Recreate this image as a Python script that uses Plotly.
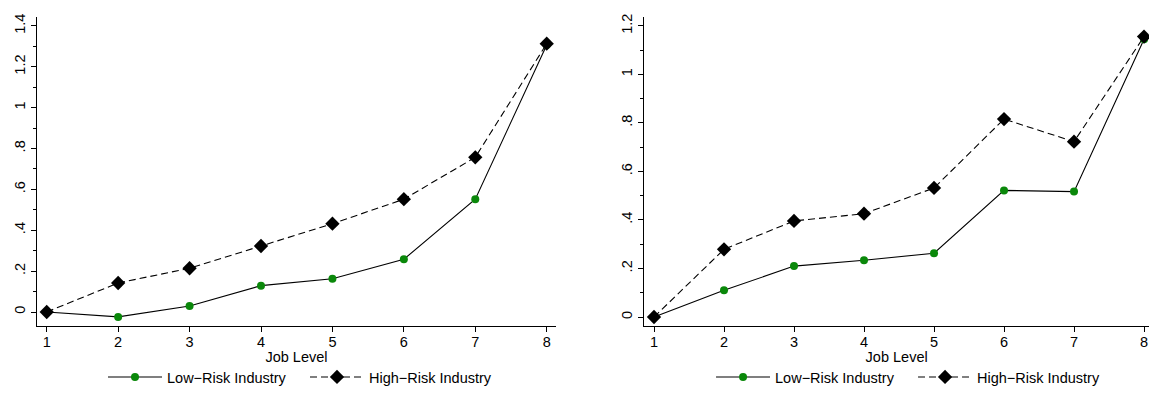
import plotly.graph_objects as go

job_levels = [1, 2, 3, 4, 5, 6, 7, 8]

# Left panel
left_low = [0.0, -0.024, 0.029, 0.129, 0.163, 0.258, 0.552, 1.307]
left_high = [0.0, 0.142, 0.214, 0.323, 0.432, 0.552, 0.757, 1.313]

# Right panel
right_low = [0.0, 0.110, 0.210, 0.234, 0.263, 0.522, 0.517, 1.145]
right_high = [0.0, 0.279, 0.396, 0.426, 0.532, 0.816, 0.723, 1.156]

left_yticks = [0, 0.2, 0.4, 0.6, 0.8, 1.0, 1.2, 1.4]
left_ytext = ["0", ".2", ".4", ".6", ".8", "1", "1.2", "1.4"]
right_yticks = [0, 0.2, 0.4, 0.6, 0.8, 1.0, 1.2]
right_ytext = ["0", ".2", ".4", ".6", ".8", "1", "1.2"]

series_names = ["Low\u2212Risk Industry", "High\u2212Risk Industry"]

GREEN = "#0a880a"
FONT = "Liberation Sans, Arial, sans-serif"
FS = 14.5

# The page puts the figure 8px in from the corner (default body margin);
# the figure is sized so the page does not overflow the 1157x394 window.
W, H = 1141, 378

fig = go.Figure()


def add_panel(low, high, xa, ya, legend):
    fig.add_trace(go.Scatter(
        x=job_levels, y=low, mode="lines+markers", name=series_names[0],
        line=dict(color="black", width=1.1),
        marker=dict(symbol="circle", size=8, color=GREEN),
        xaxis=xa, yaxis=ya, legend=legend, cliponaxis=False,
    ))
    fig.add_trace(go.Scatter(
        x=job_levels, y=high, mode="lines+markers", name=series_names[1],
        line=dict(color="black", width=1.1, dash="7px,4px"),
        marker=dict(symbol="diamond", size=11, color="black"),
        xaxis=xa, yaxis=ya, legend=legend, cliponaxis=False,
    ))


add_panel(left_low, left_high, "x", "y", "legend")
add_panel(right_low, right_high, "x2", "y2", "legend2")

axis_common = dict(
    showline=True, linecolor="black", linewidth=1.2,
    showgrid=False, zeroline=False,
    ticks="outside", ticklen=5, tickcolor="black", tickwidth=1,
    tickfont=dict(family=FONT, size=FS, color="black"),
    automargin=False,
)

xcommon = dict(axis_common, tickmode="array", tickvals=job_levels,
               ticktext=[str(v) for v in job_levels], ticklabelstandoff=-3,
               ticklabeloverflow="allow",
               title=dict(text="Job Level", font=dict(family=FONT, size=FS, color="black"), standoff=3))

ydom = [0.15873, 0.97698]
legend_common = dict(orientation="h", y=0.0238, yanchor="middle",
                     itemwidth=54, entrywidth=133, entrywidthmode="pixels",
                     font=dict(family=FONT, size=FS, color="black"),
                     bgcolor="rgba(0,0,0,0)")

fig.update_layout(
    width=W, height=H,
    margin=dict(l=0, r=0, t=0, b=0, autoexpand=False),
    paper_bgcolor="white", plot_bgcolor="white",
    showlegend=True,
    font=dict(family=FONT, size=FS, color="black"),
    xaxis=dict(xcommon, domain=[0.02542, 0.48028], range=[0.864, 8.13], anchor="y"),
    xaxis2=dict(xcommon, domain=[0.55767, 1.0], range=[0.8614, 8.071], anchor="y2"),
    yaxis=dict(axis_common, domain=ydom, range=[-0.0685, 1.445], anchor="x",
               tickmode="array", tickvals=left_yticks, ticktext=left_ytext, tickangle=-90,
               minor=dict(dtick=0.1, ticks="outside", ticklen=3, tickcolor="black")),
    yaxis2=dict(axis_common, domain=ydom, range=[-0.037, 1.238], anchor="x2",
                tickmode="array", tickvals=right_yticks, ticktext=right_ytext, tickangle=-90,
                minor=dict(dtick=0.1, ticks="outside", ticklen=3, tickcolor="black")),
    legend=dict(legend_common, x=0.2603, xanchor="center"),
    legend2=dict(legend_common, x=0.7932, xanchor="center"),
)

fig.write_html("out.html")
